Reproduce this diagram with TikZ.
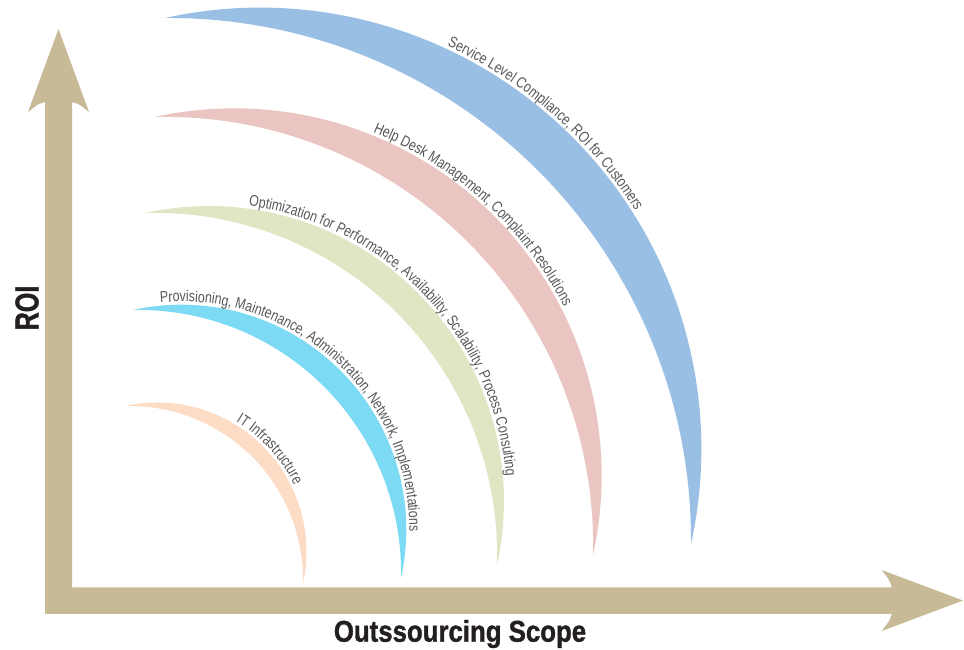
\documentclass[tikz,border=0pt]{standalone}
\usepackage{fontspec}
\setmainfont{Liberation Sans}
\newfontfamily\narrowsans{Liberation Sans}[FakeStretch=0.8]
\newfontfamily\axissans{Liberation Sans}[FakeStretch=0.86, FakeBold=1.2]
\newfontfamily\roisans{Liberation Sans}[FakeStretch=0.76, FakeBold=1.2]
\usepackage{xcolor}
\usepackage{tikz}
\definecolor{axistan}{RGB}{200, 186, 150}
\definecolor{arcpeach}{RGB}{253, 220, 198}
\definecolor{arccyan}{RGB}{125, 218, 245}
\definecolor{arcgreen}{RGB}{223, 230, 195}
\definecolor{arcpink}{RGB}{234, 197, 194}
\definecolor{arcblue}{RGB}{154, 191, 229}
\definecolor{labelgray}{RGB}{88, 89, 91}
\definecolor{axisdark}{RGB}{35, 31, 32}
\usetikzlibrary{decorations.text}

\newcommand{\arclabel}{\narrowsans\fontsize{15.5}{18}\selectfont\color{labelgray}}
% #1,#2 left tip, #3 span, #4 thickness, #5 colour, #6 label angle, #7 label
\newcommand{\crescent}[7]{%
  \pgfmathsetmacro{\cx}{#1+0.181*#3}
  \pgfmathsetmacro{\cy}{#2-0.819*#3}
  \pgfmathsetmacro{\rout}{0.8388*#3}
  \pgfmathsetmacro{\cthick}{#4/#3}
  \pgfmathsetmacro{\cshift}{(2*0.8388*\cthick-\cthick*\cthick)/(2*\cthick-2*0.8388*(1-cos(57.46)))}
  \pgfmathsetmacro{\rin}{(0.8388-\cshift-\cthick)*#3}
  \pgfmathsetmacro{\bin}{atan2(0.8388*sin(102.46)-0.7071*\cshift,0.8388*cos(102.46)-0.7071*\cshift)}
  \pgfmathsetmacro{\bout}{90-\bin}
  \pgfmathsetmacro{\rtxt}{\rout+3}
  \pgfmathsetmacro{\tx}{\cx+\rtxt*cos(#6)}
  \pgfmathsetmacro{\ty}{\cy+\rtxt*sin(#6)}
  \fill[#5] (#1,#2) arc[start angle=102.46, end angle=-12.46, radius=\rout]
    arc[start angle=\bout, end angle=\bin, radius=\rin] -- cycle;
  \path[decorate, decoration={text along path, text align=left, text={|\arclabel|#7}}]
    (\tx,\ty) arc[start angle=#6, end angle=-40, radius=\rtxt];
}

\begin{document}
\begin{tikzpicture}[x=1pt, y=1pt]
    \useasboundingbox (0,0) rectangle (964,650);
    \fill[white] (0,0) rectangle (964,650);

    % Scope bands
    \crescent{125}{244}{178}{15}{arcpeach}{58.8}{IT Infrastructure}
    \crescent{133}{340}{268}{23}{arccyan}{95.3}{Provisioning, Maintenance, Administration, Network, Implementations}
    \crescent{145}{437}{352}{29}{arcgreen}{82.3}{Optimization for Performance, Availability, Scalability, Process Consulting}
    \crescent{155}{533}{438}{37}{arcpink}{68}{Help Desk Management, Complaint Resolutions}
    \crescent{165}{632}{526}{48}{arcblue}{65.1}{Service Level Compliance, ROI for Customers}

    % Axes
    \fill[axistan] (45,36) -- (45,548) .. controls (38,546) .. (28,538) -- (58.5,621)
        -- (89,538) .. controls (79,546) .. (72,548) -- (72,62.7) -- (891.7,62.7)
        .. controls (889.7,69.7) .. (881.7,80) -- (963,49.5) -- (881.7,19)
        .. controls (889.7,29.3) .. (891.7,36) -- cycle;

    % Axis labels
    \node[font=\roisans\bfseries\fontsize{33}{38}\selectfont, color=axisdark, rotate=90]
        (roi) at (27,342) {ROI};
    \node[font=\axissans\bfseries\fontsize{30}{36}\selectfont, color=axisdark]
        (scope) at (460,16) {Outssourcing Scope};
\end{tikzpicture}
\end{document}
